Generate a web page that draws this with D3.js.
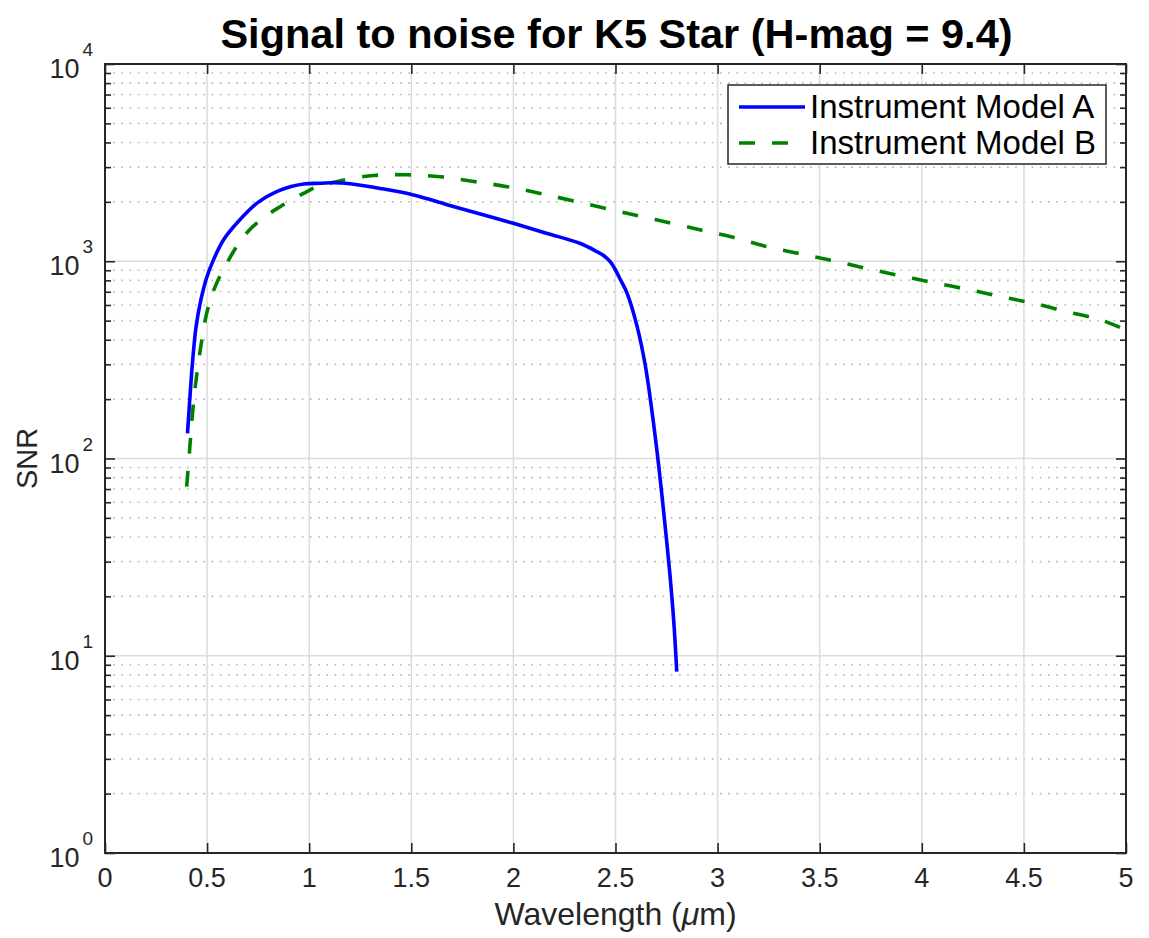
<!DOCTYPE html>
<html>
<head>
<meta charset="utf-8">
<script src="https://cdn.jsdelivr.net/npm/d3@7"></script>
<style>
  body { margin: 0; background: #fff; }
  svg { font-family: "Liberation Sans", Arial, Helvetica, sans-serif; }
</style>
</head>
<body>
<svg id="chart" width="1149" height="938"></svg>
<script>
// wavelength (um) and SNR
const waveA = [0.404, 0.415, 0.428, 0.446, 0.47, 0.497, 0.53, 0.58, 0.645, 0.743, 0.858, 0.972, 1.054, 1.12, 1.2, 1.348, 1.511, 1.675, 1.838, 2.0, 2.165, 2.328, 2.41, 2.44, 2.475, 2.5, 2.525, 2.557, 2.606, 2.647, 2.68, 2.712, 2.74, 2.766, 2.786, 2.8];
const snrA = [134, 198, 303, 466, 640, 820, 1010, 1282, 1557, 1964, 2293, 2464, 2485, 2500, 2470, 2339, 2168, 1936, 1735, 1557, 1384, 1230, 1117, 1072, 993, 903, 803, 687, 466, 292, 169, 91, 48.8, 26.2, 14.6, 8.3];

const waveB = [0.40, 0.413, 0.43, 0.446, 0.469, 0.498, 0.539, 0.605, 0.678, 0.76, 0.858, 0.972, 1.046, 1.152, 1.315, 1.479, 1.642, 1.806, 1.97, 2.132, 2.3, 2.5, 2.7, 2.917, 3.08, 3.243, 3.407, 3.57, 3.734, 3.897, 4.06, 4.224, 4.387, 4.55, 4.714, 4.877, 5.0];
const snrB = [72, 106, 176, 250, 369, 545, 742, 1014, 1331, 1616, 1891, 2208, 2404, 2560, 2723, 2743, 2681, 2539, 2387, 2208, 2014, 1807, 1622, 1442, 1320, 1185, 1089, 1003, 917, 844, 778, 720, 661, 611, 554, 504, 448];

const xTicks = [0, 0.5, 1, 1.5, 2, 2.5, 3, 3.5, 4, 4.5, 5];
const yDecades = [1, 10, 100, 1000, 10000];
const seriesNames = ['Instrument Model A', 'Instrument Model B'];

const plotL = 105, plotR = 1126, plotT = 64, plotB = 853;
const axisColor = '#262626';

const svg = d3.select('#chart');

const x = d3.scaleLinear().domain([0, 5]).range([plotL, plotR]);
const y = d3.scaleLog().domain([1, 10000]).range([plotB, plotT]);

const yMinor = [];
yDecades.slice(0, -1).forEach(d => {
  for (let k = 2; k <= 9; k++) yMinor.push(d * k);
});

// grid
const grid = svg.append('g');
grid.selectAll('.ymin')
  .data(yMinor)
  .enter().append('line')
  .attr('x1', plotL).attr('x2', plotR)
  .attr('y1', d => y(d)).attr('y2', d => y(d))
  .attr('stroke', '#b8b8b8')
  .attr('stroke-width', 1.6)
  .attr('stroke-dasharray', '1.6,6.6');

grid.selectAll('.xmaj')
  .data(xTicks.slice(1, -1))
  .enter().append('line')
  .attr('x1', d => x(d)).attr('x2', d => x(d))
  .attr('y1', plotT).attr('y2', plotB)
  .attr('stroke', '#dcdcdc')
  .attr('stroke-width', 1.5);

grid.selectAll('.ymaj')
  .data(yDecades.slice(1, -1))
  .enter().append('line')
  .attr('x1', plotL).attr('x2', plotR)
  .attr('y1', d => y(d)).attr('y2', d => y(d))
  .attr('stroke', '#dcdcdc')
  .attr('stroke-width', 1.5);

// lines
const line = (xs, ys) => d3.line()
  .x((d, i) => x(xs[i]))
  .y(d => y(d))
  .curve(d3.curveCatmullRom.alpha(0.5))(ys);

svg.append('path')
  .attr('d', line(waveB, snrB))
  .attr('fill', 'none')
  .attr('stroke', '#008000')
  .attr('stroke-width', 3.6)
  .attr('stroke-dasharray', '16,17');

svg.append('path')
  .attr('d', line(waveA, snrA))
  .attr('fill', 'none')
  .attr('stroke', '#0000ff')
  .attr('stroke-width', 3.6);

// axes (ticks inward on all four sides)
const styleAxis = g => {
  g.select('.domain').remove();
  g.selectAll('.tick line').attr('stroke', axisColor).attr('stroke-width', 1.6);
  g.selectAll('.tick text').remove();
};

svg.append('g').attr('transform', `translate(0,${plotB})`)
  .call(d3.axisBottom(x).tickValues(xTicks).tickSize(-10)).call(styleAxis);
svg.append('g').attr('transform', `translate(0,${plotT})`)
  .call(d3.axisTop(x).tickValues(xTicks).tickSize(-10)).call(styleAxis);
svg.append('g').attr('transform', `translate(${plotL},0)`)
  .call(d3.axisLeft(y).tickValues(yDecades).tickSize(-10)).call(styleAxis);
svg.append('g').attr('transform', `translate(${plotL},0)`)
  .call(d3.axisLeft(y).tickValues(yMinor).tickSize(-6)).call(styleAxis);
svg.append('g').attr('transform', `translate(${plotR},0)`)
  .call(d3.axisRight(y).tickValues(yDecades).tickSize(-10)).call(styleAxis);
svg.append('g').attr('transform', `translate(${plotR},0)`)
  .call(d3.axisRight(y).tickValues(yMinor).tickSize(-6)).call(styleAxis);

svg.append('rect')
  .attr('x', plotL).attr('y', plotT)
  .attr('width', plotR - plotL).attr('height', plotB - plotT)
  .attr('fill', 'none')
  .attr('stroke', axisColor)
  .attr('stroke-width', 2);

// tick labels
svg.selectAll('.xlab')
  .data(xTicks)
  .enter().append('text')
  .attr('x', d => x(d))
  .attr('y', plotB + 34)
  .attr('text-anchor', 'middle')
  .attr('font-size', 27)
  .attr('fill', axisColor)
  .text(d => d);

const ylab = svg.selectAll('.ylab')
  .data(yDecades)
  .enter().append('text')
  .attr('x', plotL - 12)
  .attr('y', d => y(d) + 14)
  .attr('text-anchor', 'end')
  .attr('font-size', 27)
  .attr('fill', axisColor);
ylab.append('tspan').text('10');
ylab.append('tspan')
  .attr('dx', 3)
  .attr('dy', -22)
  .attr('font-size', 19)
  .text(d => Math.round(Math.log10(d)));

// axis titles
svg.append('text')
  .attr('x', (plotL + plotR) / 2)
  .attr('y', 925)
  .attr('text-anchor', 'middle')
  .attr('font-size', 32)
  .attr('fill', axisColor)
  .call(t => {
    t.append('tspan').text('Wavelength (');
    t.append('tspan').attr('font-style', 'italic').text('\u03bc');
    t.append('tspan').text('m)');
  });

svg.append('text')
  .attr('transform', `translate(37,${(plotT + plotB) / 2}) rotate(-90)`)
  .attr('text-anchor', 'middle')
  .attr('font-size', 29)
  .attr('fill', axisColor)
  .text('SNR');

svg.append('text')
  .attr('x', (plotL + plotR) / 2 + 1)
  .attr('y', 48)
  .attr('text-anchor', 'middle')
  .attr('font-size', 41.5)
  .attr('font-weight', 'bold')
  .attr('fill', '#000')
  .text('Signal to noise for K5 Star (H-mag = 9.4)');

// legend
const legend = svg.append('g');
legend.append('rect')
  .attr('x', 728).attr('y', 85)
  .attr('width', 378).attr('height', 79)
  .attr('fill', '#fff')
  .attr('stroke', axisColor)
  .attr('stroke-width', 1.5);

const legendRows = legend.selectAll('.row')
  .data(seriesNames)
  .enter().append('g')
  .attr('transform', (d, i) => `translate(0,${107 + i * 36})`);

legendRows.append('line')
  .attr('x1', 739).attr('x2', 805)
  .attr('stroke', (d, i) => i === 0 ? '#0000ff' : '#008000')
  .attr('stroke-width', 3.6)
  .attr('stroke-dasharray', (d, i) => i === 0 ? null : '16,17');

legendRows.append('text')
  .attr('x', 810)
  .attr('y', 11)
  .attr('font-size', 33)
  .attr('fill', '#000')
  .text(d => d);
</script>
</body>
</html>
